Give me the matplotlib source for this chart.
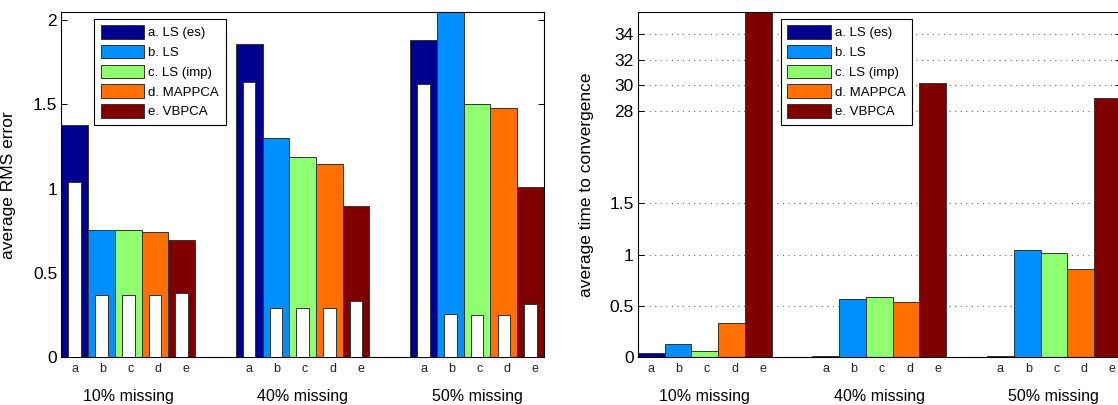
import numpy as np
import matplotlib
matplotlib.use('Agg')
import matplotlib.pyplot as plt
from matplotlib.ticker import FuncFormatter

plt.rcParams['font.family'] = ['Liberation Sans', 'DejaVu Sans']

# ===== data
groups = ['10% missing', '40% missing', '50% missing']
letters = ['a', 'b', 'c', 'd', 'e']
methods = ['a. LS (es)', 'b. LS', 'c. LS (imp)', 'd. MAPPCA', 'e. VBPCA']
colors = ['#00008f', '#008fff', '#8fff70', '#ff7000', '#800000']

# rows = methods, columns = missing-data groups
rms_test = [[1.38, 1.858, 1.882],
            [0.753, 1.302, 2.20],
            [0.755, 1.187, 1.499],
            [0.745, 1.144, 1.477],
            [0.694, 0.899, 1.010]]
rms_train = [[1.037, 1.631, 1.619],
             [0.370, 0.293, 0.258],
             [0.370, 0.293, 0.252],
             [0.370, 0.293, 0.252],
             [0.382, 0.335, 0.315]]
conv_time = [[0.039, 0.010, 0.010],
             [0.127, 0.568, 1.042],
             [0.064, 0.590, 1.016],
             [0.334, 0.542, 0.857],
             [37.0, 30.15, 29.02]]

rms_ticks = [0, 0.5, 1, 1.5, 2]
time_ticks = [0, 0.5, 1, 1.5, 28, 30, 32, 34]

# ===== layout
W = 0.1533            # bar width (group spacing = 1)
LETTER_STEP = 0.16
group_x = np.arange(1, len(groups) + 1)


# broken axis for the time plot: 0..2 linear, 2..28 squeezed, 28.. compressed
_xp = [-100.0, 2.0, 28.0, 100.0]
_fp = [-100.0, 2.0, 2.401, 2.401 + 72 * 0.1244]


def fwd(v):
    return np.interp(v, _xp, _fp)


def inv(y):
    return np.interp(y, _fp, _xp)


def style_axes(ax):
    for s in ax.spines.values():
        s.set_linewidth(0.8)
        s.set_color('black')
    ax.set_xlim(1 - 2.5 * W, len(groups) + 2.5 * W)
    ax.tick_params(axis='y', direction='in', length=4, width=0.7,
                   right=True, labelsize=12.5, pad=3)
    ax.tick_params(axis='x', bottom=False, labelbottom=False)
    ax.yaxis.set_major_formatter(FuncFormatter(lambda v, _: '{:g}'.format(v)))
    tr = ax.get_xaxis_transform()
    for g, gx in enumerate(group_x):
        for i, l in enumerate(letters):
            ax.text(gx - 2 * W + i * LETTER_STEP, -0.035, l, transform=tr,
                    ha='center', va='center', fontsize=9, color='#222222')
        ax.text(gx, -0.114, groups[g], transform=tr, ha='center',
                va='center', fontsize=11.5)


def add_legend(ax, x0):
    leg = ax.legend(loc='upper left', bbox_to_anchor=(x0, 0.981),
                    borderaxespad=0, fontsize=9.5, handlelength=3.3,
                    handleheight=1.2, labelspacing=0.42, handletextpad=0.3,
                    borderpad=0.5, fancybox=False, framealpha=1)
    leg.get_frame().set_edgecolor('black')
    leg.get_frame().set_linewidth(0.8)


fig = plt.figure(figsize=(11.18, 4.05), dpi=100)
ax1 = fig.add_axes([0.0549, 0.1178, 0.4316, 0.8526])
ax2 = fig.add_axes([0.5705, 0.1178, 0.4320, 0.8526])

# ===== left: RMS error
for i in range(len(methods)):
    xs = group_x - 2 * W + i * W
    ax1.bar(xs, rms_test[i], width=W, color=colors[i], edgecolor='#333333',
            linewidth=0.7, label=methods[i], zorder=2)
    ax1.bar(xs, rms_train[i], width=W * 0.47, color='white',
            edgecolor='#333333', linewidth=0.7, zorder=3)
ax1.set_ylim(0, 2.047)
ax1.set_yticks(rms_ticks)
ax1.set_ylabel('average RMS error', fontsize=12.5)
ax1.yaxis.set_label_coords(-0.094, 0.5)
style_axes(ax1)
add_legend(ax1, 0.068)

# ===== right: time to convergence
ax2.set_yscale('function', functions=(fwd, inv))
for i in range(len(methods)):
    xs = group_x - 2 * W + i * W
    ax2.bar(xs, conv_time[i], width=W, color=colors[i], edgecolor='#333333',
            linewidth=0.7, label=methods[i], zorder=2)
ax2.set_ylim(0, 35.73)
ax2.set_yticks(time_ticks)
ax2.yaxis.grid(True, linestyle=(0, (1, 4)), color='#666666', linewidth=0.8)
ax2.set_axisbelow(True)
ax2.set_ylabel('average time to convergence', fontsize=12.5)
ax2.yaxis.set_label_coords(-0.0907, 0.5)
style_axes(ax2)
add_legend(ax2, 0.296)

fig.savefig('out.png', dpi=100)
